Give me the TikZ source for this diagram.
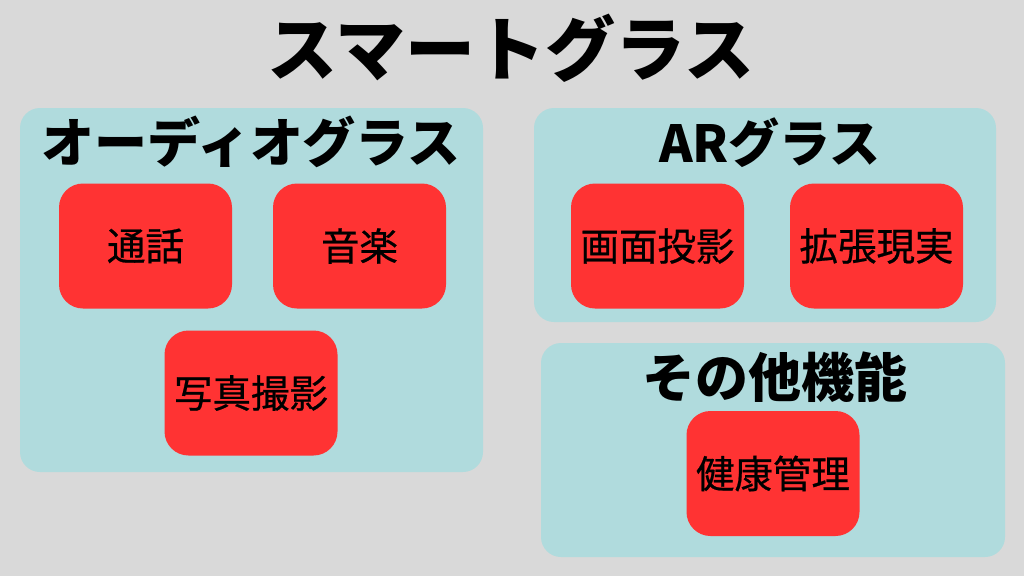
\documentclass[tikz,border=0pt]{standalone}
\usepackage{fontspec}
\setmainfont{Noto Sans CJK JP}
\newfontfamily\itemfont[FakeBold=0.6]{Noto Sans CJK JP}
\definecolor{bgcol}{RGB}{217,217,217}
\definecolor{panelcol}{RGB}{176,219,221}
\definecolor{boxcol}{RGB}{255,51,51}
\tikzset{
  panel/.style={fill=panelcol, rounded corners=20pt, inner sep=0pt, outer sep=0pt, anchor=north west},
  itembox/.style={fill=boxcol, rounded corners=24pt, inner sep=0pt, minimum width=173pt, minimum height=125pt, font=\itemfont\fontsize{38.5}{38.5}\selectfont},
  paneltitle/.style={inner sep=0pt, font=\fontsize{53}{53}\selectfont\bfseries},
  maintitle/.style={inner sep=0pt, font=\fontsize{70}{70}\selectfont\bfseries}
}
\begin{document}
\begin{tikzpicture}[x=1pt,y=-1pt]
\useasboundingbox[fill=bgcol] (0,0) rectangle (1024,576);
\node[maintitle] (title) at (511,48) {スマートグラス};
% panels
\node[panel, minimum width=463pt, minimum height=364pt] (audio) at (20,108) {};
\node[panel, minimum width=462pt, minimum height=214pt] (ar) at (534,108) {};
\node[panel, minimum width=464pt, minimum height=214pt] (other) at (541,343) {};
% panel titles
\node[paneltitle] (audiot) at (251,142) {オーディオグラス};
\node[paneltitle, font=\fontsize{51}{51}\selectfont\bfseries] (art) at (770,143) {ARグラス};
\node[paneltitle] (othert) at (775,377) {その他機能};
% items
\node[itembox] (call) at (145.5,246) {通話};
\node[itembox] (music) at (359.5,246) {音楽};
\node[itembox] (photo) at (251,393) {写真撮影};
\node[itembox] (proj) at (657.5,246) {画面投影};
\node[itembox] (augm) at (876.5,246) {拡張現実};
\node[itembox] (health) at (773,473.5) {健康管理};
\end{tikzpicture}
\end{document}
